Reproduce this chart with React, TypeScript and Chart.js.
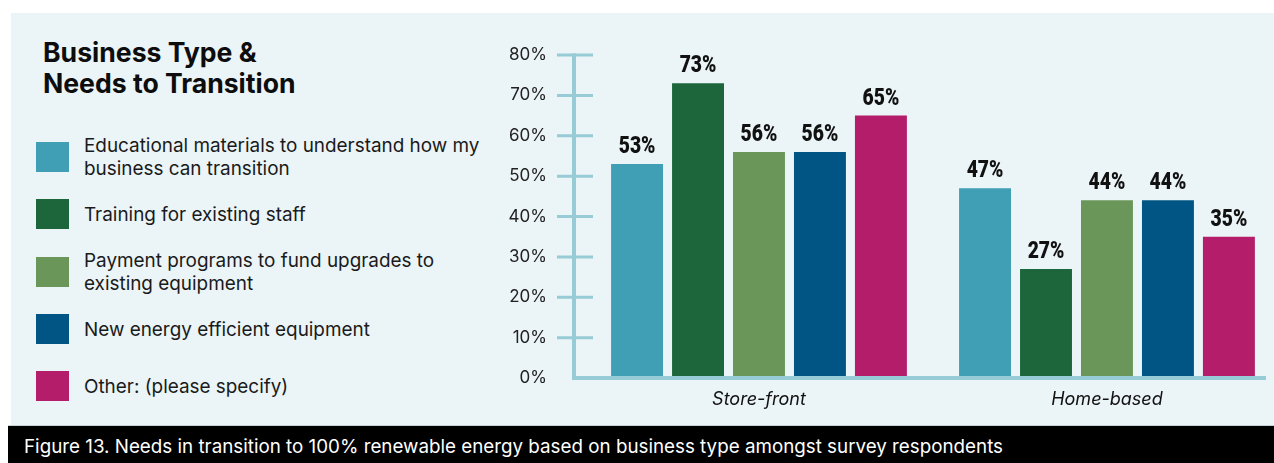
import React, { useEffect, useRef } from "react";
import { Chart, registerables } from "chart.js";

Chart.register(...registerables);

// ---------- data ----------
const categories = ["Store-front", "Home-based"];
const seriesNames: string[][] = [
  ["Educational materials to understand how my", "business can transition"],
  ["Training for existing staff"],
  ["Payment programs to fund upgrades to", "existing equipment"],
  ["New energy efficient equipment"],
  ["Other: (please specify)"],
];
const educational = [53, 47];
const training = [73, 27];
const payment = [56, 44];
const newEquipment = [56, 44];
const other = [65, 35];
const seriesValues = [educational, training, payment, newEquipment, other];
const seriesColors = ["#409fb4", "#1d663c", "#6a9659", "#005584", "#b41d6a"];
const yMax = 80;
const yStep = 10;
const titleLines = ["Business Type &", "Needs to Transition"];
const caption =
  "Figure 13. Needs in transition to 100% renewable energy based on business type amongst survey respondents";

// ---------- styles ----------
const AXIS_COLOR = "#97cbd6";
const PANEL_BG = "#ebf4f7";
const X_MIN = -0.5316;
const X_MAX = 1.457;

const axisPlugin = {
  id: "axisDecor",
  afterDatasetsDraw(chart: any) {
    const { ctx, chartArea, scales } = chart;
    const y = scales.y;
    ctx.save();
    ctx.strokeStyle = AXIS_COLOR;
    ctx.lineCap = "butt";
    ctx.lineWidth = 3;
    y.ticks.forEach((t: any) => {
      if (t.value === 0) return;
      const py = y.getPixelForValue(t.value);
      ctx.beginPath();
      ctx.moveTo(chartArea.left - 17, py);
      ctx.lineTo(chartArea.left + 19, py);
      ctx.stroke();
    });
    ctx.lineWidth = 4;
    ctx.beginPath();
    ctx.moveTo(chartArea.left, y.getPixelForValue(yMax) - 1.5);
    ctx.lineTo(chartArea.left, chartArea.bottom + 2);
    ctx.stroke();
    ctx.beginPath();
    ctx.moveTo(chartArea.left - 2, chartArea.bottom);
    ctx.lineTo(chartArea.right, chartArea.bottom);
    ctx.stroke();
    ctx.restore();
  },
};

const valueLabelPlugin = {
  id: "valueLabels",
  afterDatasetsDraw(chart: any) {
    const { ctx } = chart;
    chart.data.datasets.forEach((ds: any, di: number) => {
      const meta = chart.getDatasetMeta(di);
      meta.data.forEach((el: any, i: number) => {
        const v = ds.data[i].y;
        ctx.save();
        ctx.font = "900 23px Roboto, sans-serif";
        ctx.fillStyle = "#111111";
        ctx.textAlign = "center";
        ctx.textBaseline = "alphabetic";
        ctx.translate(el.x, el.y - 11);
        ctx.scale(0.84, 1);
        ctx.fillText(`${v}%`, 0, 0);
        ctx.restore();
      });
    });
  },
};

function BarChart() {
  const ref = useRef<HTMLCanvasElement | null>(null);
  useEffect(() => {
    if (!ref.current) return;
    const chart = new Chart(ref.current, {
      type: "bar",
      data: {
        datasets: seriesValues.map((vals, si) => ({
          label: seriesNames[si].join(" "),
          data: vals.map((v, i) => ({ x: i, y: v })),
          backgroundColor: seriesColors[si],
          borderWidth: 0,
          categoryPercentage: 0.876,
          barPercentage: 0.852,
        })),
      },
      options: {
        responsive: false,
        maintainAspectRatio: false,
        animation: false,
        layout: { padding: { top: 42, right: 8, left: 0, bottom: 0 } },
        plugins: {
          legend: { display: false },
          tooltip: { enabled: false },
          title: { display: false },
        },
        scales: {
          x: {
            type: "linear",
            min: X_MIN,
            max: X_MAX,
            offset: false,
            grid: { display: false, drawTicks: false, offset: false },
            border: { display: false },
            afterDataLimits: (s: any) => {
              s.min = X_MIN;
              s.max = X_MAX;
            },
            afterBuildTicks: (s: any) => {
              s.ticks = categories.map((_, i) => ({ value: i }));
              s.min = X_MIN;
              s.max = X_MAX;
            },
            afterFit: (s: any) => {
              s.height = 47;
            },
            ticks: {
              autoSkip: false,
              maxRotation: 0,
              padding: 11,
              color: "#111111",
              font: { family: "Inter", style: "italic", size: 18 },
              callback: (v: any) => categories[v] ?? "",
            },
          },
          y: {
            min: 0,
            max: yMax,
            grid: { display: false, drawTicks: false },
            border: { display: false },
            afterFit: (s: any) => {
              s.width = 74;
            },
            ticks: {
              stepSize: yStep,
              padding: 27,
              color: "#222222",
              font: { family: "Inter", size: 17 },
              callback: (v: any) => `${v}%`,
            },
          },
        },
      } as any,
      plugins: [axisPlugin, valueLabelPlugin],
    });
    return () => chart.destroy();
  }, []);
  return (
    <canvas
      ref={ref}
      width={774}
      height={412}
      style={{ position: "absolute", left: 500, top: 13, width: 774, height: 412 }}
    />
  );
}

export default function App() {
  useEffect(() => {
    document.body.style.margin = "0";
    document.documentElement.style.overflow = "hidden";
  }, []);
  return (
    <div
      style={{
        position: "absolute",
        left: 0,
        top: 0,
        width: 1274,
        height: 463,
        background: "#ffffff",
        overflow: "hidden",
        fontFamily: "Inter, sans-serif",
      }}
    >
      <div
        style={{
          position: "absolute",
          left: 11,
          top: 13,
          width: 1263,
          height: 412,
          background: PANEL_BG,
        }}
      />
      <div
        style={{
          position: "absolute",
          left: 43,
          top: 37,
          fontSize: 26.6,
          lineHeight: "31px",
          fontWeight: 700,
          color: "#0d0d0d",
          whiteSpace: "nowrap",
        }}
      >
        {titleLines.map((l, i) => (
          <div key={i}>{l}</div>
        ))}
      </div>
      <div style={{ position: "absolute", left: 36, top: 128.5, width: 470 }}>
        {seriesNames.map((lines, i) => (
          <div
            key={i}
            style={{ height: 57.3, display: "flex", alignItems: "center" }}
          >
            <div
              style={{
                width: 33,
                height: 30,
                background: seriesColors[i],
                flex: "none",
              }}
            />
            <div
              style={{
                marginLeft: 15,
                fontSize: 18.9,
                lineHeight: "23px",
                color: "#1a1a1a",
                whiteSpace: "nowrap",
              }}
            >
              {lines.map((l, j) => (
                <div key={j}>{l}</div>
              ))}
            </div>
          </div>
        ))}
      </div>
      <BarChart />
      <div
        style={{
          position: "absolute",
          left: 8,
          top: 425,
          width: 1266,
          height: 1,
          background: "#c9d3d6",
        }}
      />
      <div
        style={{
          position: "absolute",
          left: 8,
          top: 426,
          width: 1266,
          height: 37,
          background: "#000000",
        }}
      />
      <div
        style={{
          position: "absolute",
          left: 24,
          top: 432,
          fontSize: 18.8,
          lineHeight: "30px",
          color: "#ffffff",
          whiteSpace: "nowrap",
        }}
      >
        {caption}
      </div>
    </div>
  );
}
